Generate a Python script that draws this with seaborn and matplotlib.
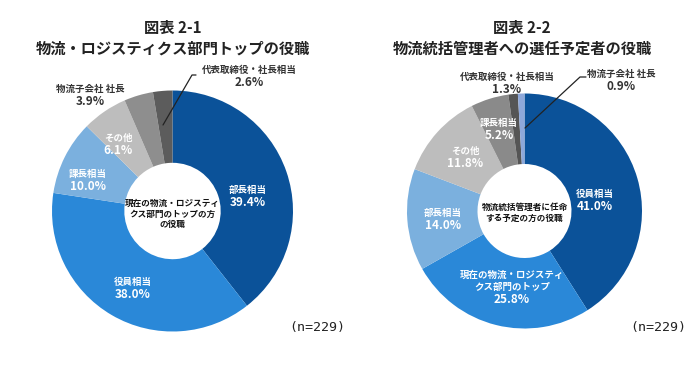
import numpy as np
import matplotlib.pyplot as plt
import seaborn as sns

# chart 2-1
labels_1 = ['部長相当', '役員相当', '課長相当', 'その他', '物流子会社 社長', '代表取締役・社長相当']
values_1 = [39.4, 38.0, 10.0, 6.1, 3.9, 2.6]
colors_1 = ['#0b5299', '#2a88d8', '#7bb0de', '#bdbdbd', '#8e8e8e', '#5c5c5c']

# chart 2-2
labels_2 = ['役員相当', '現在の物流・ロジスティ\nクス部門のトップ', '部長相当', 'その他', '課長相当',
            '代表取締役・社長相当', '物流子会社 社長']
values_2 = [41.0, 25.8, 14.0, 11.8, 5.2, 1.3, 0.9]
colors_2 = ['#0b5299', '#2a88d8', '#7bb0de', '#bdbdbd', '#8a8a8a', '#555555', '#8ea8da']

titles = ['図表 2-1\n物流・ロジスティクス部門トップの役職', '図表 2-2\n物流統括管理者への選任予定者の役職']
centers_txt = ['現在の物流・ロジスティ\nクス部門のトップの方\nの役職', '物流統括管理者に任命\nする予定の方の役職']
n_text = '(n=229)'

sns.set_style('white')
plt.rcParams['font.family'] = ['Noto Sans CJK JP', 'DejaVu Sans']

H = 369


def py(y):
    # pixel y from top -> data y
    return H - y


def draw_donut(ax, values, colors, cx, cy, r, title, tx, center_txt, c_y, lab_pos, lab_names, outer, nx):
    ax.pie(values, colors=colors, startangle=90, counterclock=False,
           center=(cx, py(cy)), radius=r, frame=True,
           wedgeprops=dict(width=r * 0.6, linewidth=0))
    ax.text(tx, py(38), title, ha='center', va='center', fontsize=11, fontweight='bold',
            color='#222222', linespacing=1.35)
    ax.text(cx, py(c_y), center_txt, ha='center', va='center', fontsize=6.2,
            fontweight='bold', color='#111111', linespacing=1.25)
    for i, (x, y) in enumerate(lab_pos):
        col = '#333333' if i in outer else 'white'
        ax.text(x, py(y), lab_names[i], ha='center', va='bottom', fontsize=6.8,
                fontweight='bold', color=col, linespacing=1.3)
        ax.text(x, py(y) - 1, f'{values[i]:.1f}%', ha='center', va='top', fontsize=8.5,
                fontweight='bold', color=col)
    ax.text(nx, py(327), n_text, ha='center', va='center', fontsize=9.5, color='#222222',
            family=['DejaVu Sans Mono'])


fig = plt.figure(figsize=(7, 3.69), dpi=100)
ax = fig.add_axes([0, 0, 1, 1])

pos_1 = [(248, 195), (133, 287), (88, 179), (118, 143), (90, 94), (249, 75)]
draw_donut(ax, values_1, colors_1, 172.5, 211, 120.5, titles[0], 173, centers_txt[0], 214,
           pos_1, labels_1, outer=[4, 5], nx=317)
ax.plot([163, 192, 196], [py(125), py(75), py(75)], color='#222222', lw=0.9)

pos_2 = [(595, 199), (512, 292), (443, 218), (465, 156), (499, 128), (507, 82), (621, 79)]
draw_donut(ax, values_2, colors_2, 524.5, 211, 117.5, titles[1], 522, centers_txt[1], 213,
           pos_2, labels_2, outer=[5, 6], nx=658)
ax.plot([525, 580, 586], [py(128), py(77), py(77)], color='#222222', lw=0.9)

ax.set_xlim(0, 700)
ax.set_ylim(0, H)
ax.set_aspect('auto')
ax.axis('off')

fig.savefig('out.png', dpi=100, facecolor='white')
